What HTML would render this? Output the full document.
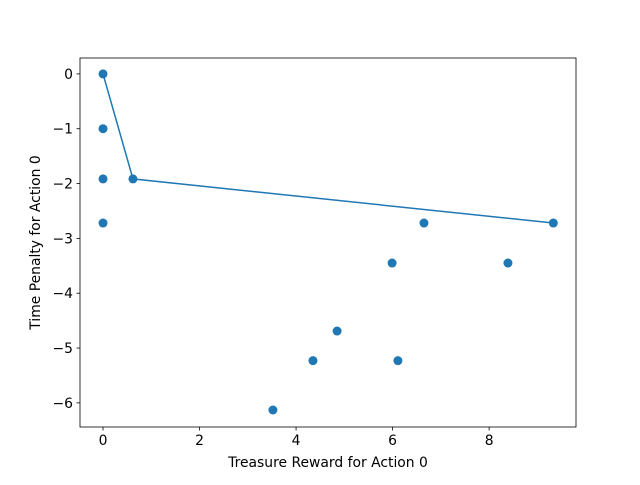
<!DOCTYPE html>
<html><head><meta charset="utf-8"><style>
body{margin:0;background:#fff;}
svg text{font-family:"DejaVu Sans","Liberation Sans",sans-serif;font-size:13.9px;fill:#000;}
</style></head><body>
<svg id="chart" width="640" height="480">
<rect width="640" height="480" fill="#fff"/>
<g id="plot"></g>
</svg>
<script>
const pointsX=[0,0,0,0,0.62,9.33,6.65,8.39,5.99,4.85,4.35,6.11,3.52];
const pointsY=[0,-1.0,-1.915,-2.72,-1.915,-2.72,-2.72,-3.45,-3.45,-4.69,-5.23,-5.23,-6.13];
const frontX=[0,0.62,9.33];
const frontY=[0,-1.915,-2.72];
const xTicks=[0,2,4,6,8];
const yTicks=[0,-1,-2,-3,-4,-5,-6];
const L=80,R=576,T=58,B=427;
const xmin=-0.477,xmax=9.80,ymin=-6.44,ymax=0.29;
const sx=v=>L+(v-xmin)/(xmax-xmin)*(R-L);
const sy=v=>B-(v-ymin)/(ymax-ymin)*(B-T);
const NS="http://www.w3.org/2000/svg";
const g=document.getElementById('plot');
function mk(t,a){const e=document.createElementNS(NS,t);for(const k in a)e.setAttribute(k,a[k]);g.appendChild(e);return e;}
pointsX.forEach((x,i)=>{
 const c=mk('circle',{cx:sx(x),cy:sy(pointsY[i]),r:4.5,fill:'#1f77b4'});
 
 
});
const pl=mk('polyline',{points:frontX.map((x,i)=>sx(x)+','+sy(frontY[i])).join(' '),fill:'none',stroke:'#1f77b4','stroke-width':1.5});


const fr=mk('rect',{x:L,y:T,width:R-L,height:B-T,fill:'none',stroke:'#000','stroke-width':0.8});


xTicks.forEach(v=>{
 const x=sx(v);
 mk('line',{x1:x,x2:x,y1:B,y2:B+3.5,stroke:'#000','stroke-width':0.8});
 const t=mk('text',{x:x,y:B+18,'text-anchor':'middle'});t.textContent=v;
 
 
});
yTicks.forEach(v=>{
 const y=sy(v);
 mk('line',{x1:L-3.5,x2:L,y1:y,y2:y,stroke:'#000','stroke-width':0.8});
 const t=mk('text',{x:L-7,y:y+5,'text-anchor':'end'});t.textContent=v<0?'\u2212'+(-v):v;
 
 
});
const xt=mk('text',{x:(L+R)/2,y:467,'text-anchor':'middle'});xt.textContent='Treasure Reward for Action 0';


const yt=mk('text',{x:0,y:0,'text-anchor':'middle',transform:`translate(40,${(T+B)/2}) rotate(-90)`});yt.textContent='Time Penalty for Action 0';


</script>
</body></html>
